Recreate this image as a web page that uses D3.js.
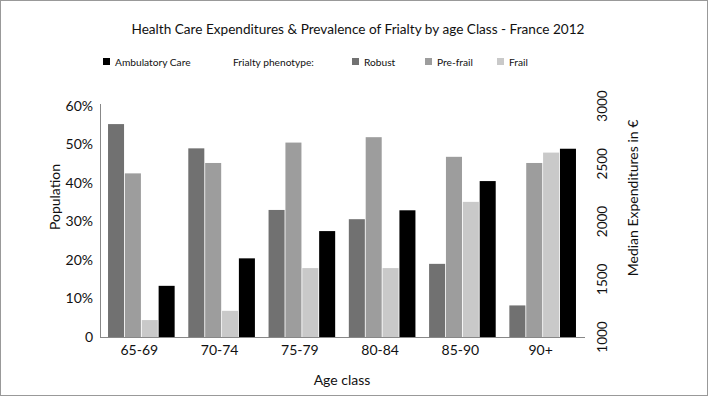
<!DOCTYPE html>
<html><head><meta charset="utf-8">
<script src="https://cdn.jsdelivr.net/npm/d3@7"></script>
<style>body{margin:0;background:#fff;} svg{display:block;font-family:Lato,"Open Sans",sans-serif;}</style>
</head><body>
<script>
const categories = ["65-69","70-74","75-79","80-84","85-90","90+"];
const robust   = [0.553, 0.490, 0.330, 0.306, 0.190, 0.082];
const preFrail = [0.425, 0.452, 0.505, 0.519, 0.468, 0.452];
const frail    = [0.044, 0.068, 0.179, 0.179, 0.351, 0.479];
const ambulatoryCare = [1443, 1681, 1917, 2097, 2350, 2630];
const leftTicks = [0,0.1,0.2,0.3,0.4,0.5,0.6];
const rightTicks = [1000,1500,2000,2500,3000];
const seriesNames = ["Robust","Pre-frail","Frail","Ambulatory Care"];
const colors = {"Robust":"#717171","Pre-frail":"#9d9d9d","Frail":"#c9c9c9","Ambulatory Care":"#000"};

const W=709,H=397;
const svg=d3.select("body").append("svg").attr("width",W).attr("height",H);
svg.append("rect").attr("x",0.5).attr("y",0.5).attr("width",W-2).attr("height",H-2).attr("fill","#fff").attr("stroke","#999");

const x=d3.scaleBand().domain(categories).range([100,584]).paddingInner(0.17).paddingOuter(0.1);
const xi=d3.scaleBand().domain(seriesNames).range([0,x.bandwidth()]).paddingInner(0.05);
const yL=d3.scaleLinear().domain([0,0.6]).range([337,106]);
const yR=d3.scaleLinear().domain([1000,3000]).range([337,106]);

const rows=categories.map((c,i)=>({cat:c,vals:[
  {s:"Robust",y:yL(robust[i])},{s:"Pre-frail",y:yL(preFrail[i])},{s:"Frail",y:yL(frail[i])},{s:"Ambulatory Care",y:yR(ambulatoryCare[i])}]}));

const g=svg.append("g");
g.selectAll("g.grp").data(rows).join("g").attr("transform",d=>`translate(${x(d.cat)},0)`)
 .selectAll("rect").data(d=>d.vals).join("rect")
 .attr("x",d=>xi(d.s)).attr("width",xi.bandwidth())
 .attr("y",d=>d.y).attr("height",d=>337-d.y).attr("fill",d=>colors[d.s]);

// axes lines
svg.append("line").attr("x1",100.5).attr("x2",100.5).attr("y1",104).attr("y2",337).attr("stroke","#888");
svg.append("line").attr("x1",100).attr("x2",585).attr("y1",337.5).attr("y2",337.5).attr("stroke","#888");

// left axis
const la=svg.append("g").attr("transform","translate(100,0)").call(d3.axisLeft(yL).tickValues(leftTicks).tickSize(0).tickPadding(7).tickFormat(d=>d===0?"0":d3.format(".0%")(d)));
la.select(".domain").remove();
la.selectAll("text").attr("font-size",14).attr("font-family","Lato,sans-serif").attr("fill","#111");

// right axis labels (rotated)
svg.append("g").selectAll("text").data(rightTicks).join("text")
 .attr("transform",d=>`translate(607,${yR(d)}) rotate(-90)`).attr("text-anchor","middle")
 .attr("font-size",13.5).attr("fill","#111").text(d=>d);

// x axis
const xa=svg.append("g").attr("transform","translate(-2,337)").call(d3.axisBottom(x).tickSize(0).tickPadding(8));
xa.select(".domain").remove();
xa.selectAll("text").attr("font-size",14).attr("font-family","Lato,sans-serif").attr("fill","#111");

// titles
svg.append("text").attr("x",358).attr("y",34).attr("text-anchor","middle").attr("font-size",13.6).attr("fill","#111")
 .text("Health Care Expenditures & Prevalence of Frialty by age Class - France 2012");
svg.append("text").attr("x",342).attr("y",385).attr("text-anchor","middle").attr("font-size",14).attr("fill","#111").text("Age class");
svg.append("text").attr("transform","translate(60,197) rotate(-90)").attr("text-anchor","middle").attr("font-size",14).attr("fill","#111").text("Population");
svg.append("text").attr("transform","translate(638,198) rotate(-90)").attr("text-anchor","middle").attr("font-size",14).attr("fill","#111").text("Median Expenditures in €");

// legend
const legend=[{s:"Ambulatory Care",x:103},{s:"Robust",x:352},{s:"Pre-frail",x:425},{s:"Frail",x:497}];
const lg=svg.append("g");
lg.selectAll("rect").data(legend).join("rect").attr("x",d=>d.x).attr("y",58).attr("width",7).attr("height",7).attr("fill",d=>colors[d.s]);
lg.selectAll("text").data(legend).join("text").attr("x",d=>d.x+12).attr("y",65.5).attr("font-size",10.2).attr("fill","#111").text(d=>d.s);
svg.append("text").attr("x",233).attr("y",65.5).attr("font-size",10.2).attr("fill","#111").text("Frialty phenotype:");
</script>
</body></html>
